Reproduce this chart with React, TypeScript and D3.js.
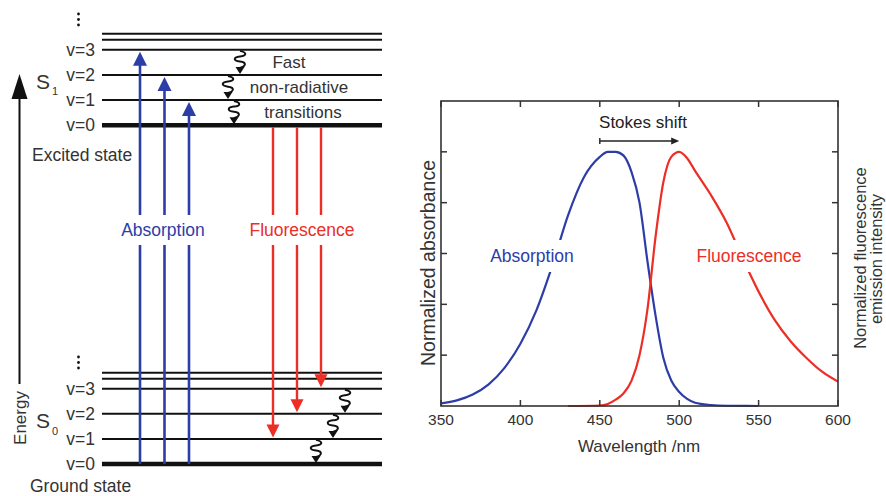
import React, { useEffect, useRef } from 'react';
import * as d3 from 'd3';

// spectra (normalized)
const absWavelength = [350, 360, 370, 380, 390, 400, 410, 420, 430, 440, 450, 455, 460, 465, 470, 475, 480, 485, 490, 495, 500, 505, 510, 520, 530, 550];
const absValues = [0.01, 0.022, 0.045, 0.085, 0.15, 0.245, 0.375, 0.55, 0.75, 0.9, 0.98, 1.0, 1.0, 0.985, 0.92, 0.8, 0.57, 0.36, 0.19, 0.1, 0.055, 0.028, 0.013, 0.004, 0.001, 0];
const fluWavelength = [430, 450, 455, 460, 465, 470, 475, 480, 485, 490, 495, 500, 505, 510, 520, 530, 540, 550, 560, 570, 580, 590, 600];
const fluValues = [0, 0.002, 0.008, 0.025, 0.05, 0.1, 0.2, 0.38, 0.66, 0.88, 0.98, 1.0, 0.975, 0.925, 0.83, 0.72, 0.58, 0.45, 0.34, 0.256, 0.19, 0.135, 0.096];
const xTicks = [350, 400, 450, 500, 550, 600];
const yTicks = [0.2, 0.4, 0.6, 0.8, 1.0];
const stokesFrom = 450;
const stokesTo = 500;

// Jablonski levels (energy units)
const vibLabels = ['v=0', 'v=1', 'v=2', 'v=3'];
const s0Energy = [0, 1, 2, 3];
const s1Energy = [13.5, 14.5, 15.5, 16.5];
const s0Upper = [3.4, 3.64];
const s1Upper = [16.9, 17.14];
const absTargets = [3, 2, 1];
const fluTargets = [1, 2, 3];
const relaxS1 = [[3, 2], [2, 1], [1, 0]];
const relaxS0 = [[3, 2], [2, 1], [1, 0]];
const relaxTexts = ['Fast', 'non-radiative', 'transitions'];

const BLUE = '#2d3da8';
const RED = '#ec2e26';
const INK = '#222';
const FONT = '"Liberation Sans", Arial, Helvetica, sans-serif';

const App = () => {
  const ref = useRef<SVGSVGElement>(null);

  useEffect(() => {
    const svg = d3.select(ref.current);
    svg.selectAll('*').remove();
    svg.attr('font-family', FONT);

    // ---------- left: Jablonski diagram ----------
    const yE = d3.scaleLinear().domain([0, 18]).range([464, 464 - 18 * 25.1]);
    const lx0 = 102;
    const lx1 = 382;
    const left = svg.append('g');

    const drawLevels = (energies: number[], upper: number[]) => {
      energies.forEach((e, i) => {
        left.append('line')
          .attr('x1', lx0).attr('x2', lx1)
          .attr('y1', yE(e)).attr('y2', yE(e))
          .attr('stroke', '#111').attr('stroke-width', i === 0 ? 4.5 : 2);
        left.append('text')
          .attr('x', 95).attr('y', yE(e) + 6)
          .attr('text-anchor', 'end').attr('font-size', 17.5).attr('fill', '#333')
          .text(vibLabels[i]);
      });
      upper.forEach(e => {
        left.append('line')
          .attr('x1', lx0).attr('x2', lx1)
          .attr('y1', yE(e)).attr('y2', yE(e))
          .attr('stroke', '#111').attr('stroke-width', 2);
      });
    };
    drawLevels(s0Energy, s0Upper);
    drawLevels(s1Energy, s1Upper);

    // dots above each manifold
    const dots = (y0: number) => {
      [0, 5.5, 11].forEach(d => {
        left.append('circle').attr('cx', 78.5).attr('cy', y0 + d).attr('r', 1.4).attr('fill', '#111');
      });
    };
    dots(14);
    dots(357);

    // state labels
    const stateLabel = (y: number, sub: string, subY: number) => {
      left.append('text').attr('x', 36).attr('y', y).attr('font-size', 21).attr('fill', '#333').text('S');
      left.append('text').attr('x', 52).attr('y', subY).attr('font-size', 11).attr('fill', '#333').text(sub);
    };
    stateLabel(89, '1', 95);
    stateLabel(428, '0', 435);
    left.append('text').attr('x', 32).attr('y', 161).attr('font-size', 17.5).attr('fill', '#333').text('Excited state');
    left.append('text').attr('x', 30).attr('y', 492).attr('font-size', 17.5).attr('fill', '#333').text('Ground state');

    // energy axis
    left.append('line').attr('x1', 19.5).attr('x2', 19.5).attr('y1', 95).attr('y2', 384)
      .attr('stroke', '#111').attr('stroke-width', 2);
    left.append('path').attr('d', 'M19.5,74 L27.5,99 L11.5,99 Z').attr('fill', '#111');
    left.append('text').attr('transform', 'translate(25.5,418) rotate(-90)')
      .attr('text-anchor', 'middle').attr('font-size', 17).attr('fill', '#333').text('Energy');

    const arrowHead = (x: number, tip: number, dir: number, hw: number, hl: number, color: string) => {
      left.append('path')
        .attr('d', `M${x},${tip} L${x + hw},${tip + dir * hl} L${x - hw},${tip + dir * hl} Z`)
        .attr('fill', color);
    };

    // absorption arrows
    const absX = d3.scalePoint<number>().domain(absTargets).range([140, 189]);
    absTargets.forEach(t => {
      const x = absX(t)!;
      const tip = yE(s1Energy[t]) + 2;
      left.append('line').attr('x1', x).attr('x2', x).attr('y1', yE(s0Energy[0])).attr('y2', tip + 10)
        .attr('stroke', BLUE).attr('stroke-width', 2.6);
      arrowHead(x, tip, 1, 7, 14, BLUE);
    });

    // fluorescence arrows
    const fluX = d3.scalePoint<number>().domain(fluTargets).range([273, 321]);
    fluTargets.forEach(t => {
      const x = fluX(t)!;
      const tip = yE(s0Energy[t]) - 1.5;
      left.append('line').attr('x1', x).attr('x2', x).attr('y1', yE(s1Energy[0]) + 2).attr('y2', tip - 10)
        .attr('stroke', RED).attr('stroke-width', 2.4);
      arrowHead(x, tip, -1, 6.5, 13, RED);
    });

    // labels with white backgrounds
    const labelBox = (g: d3.Selection<any, any, any, any>, x: number, y: number, txt: string, color: string, size: number, padY: number) => {
      const bg = g.append('rect').attr('fill', '#fff');
      const t = g.append('text').attr('x', x).attr('y', y).attr('text-anchor', 'middle')
        .attr('dominant-baseline', 'central').attr('font-size', size).attr('fill', color).text(txt);
      const b = (t.node() as SVGTextElement).getBBox();
      bg.attr('x', b.x - 2).attr('y', b.y - padY).attr('width', b.width + 4).attr('height', b.height + padY * 2);
    };
    labelBox(left, 163, 230, 'Absorption', BLUE, 17.5, 5);
    labelBox(left, 302, 230, 'Fluorescence', RED, 17.5, 5);

    // non-radiative relaxation squiggles
    const squiggle = (x: number, yTop: number, yTip: number) => {
      const y1 = yTop + 1;
      const y2 = yTip - 6;
      const h = (y2 - y1) / 4;
      const p = d3.path();
      p.moveTo(x, y1);
      p.bezierCurveTo(x + 7, y1 + h * 0.4, x + 7, y1 + h * 1.1, x, y1 + h * 1.3);
      p.bezierCurveTo(x - 7, y1 + h * 1.5, x - 7, y1 + h * 2.3, x, y1 + h * 2.5);
      p.bezierCurveTo(x + 7, y1 + h * 2.7, x + 6, y1 + h * 3.6, x, y1 + h * 4);
      left.append('path').attr('d', p.toString()).attr('fill', 'none')
        .attr('stroke', '#111').attr('stroke-width', 2);
      left.append('path')
        .attr('d', `M${x},${yTip} L${x + 4.5},${yTip - 7} L${x - 4.5},${yTip - 7} Z`).attr('fill', '#111');
    };
    const relaxS1X = [240, 228, 234];
    relaxS1.forEach(([a, b], i) => squiggle(relaxS1X[i], yE(s1Energy[a]), yE(s1Energy[b]) - 1));
    const relaxS0X = [345, 333, 316];
    relaxS0.forEach(([a, b], i) => squiggle(relaxS0X[i], yE(s0Energy[a]), yE(s0Energy[b]) - 1));

    const relaxTextX = [289, 299, 303];
    relaxTexts.forEach((s, i) => {
      left.append('text').attr('x', relaxTextX[i])
        .attr('y', (yE(s1Energy[3 - i]) + yE(s1Energy[2 - i])) / 2 + 5.5)
        .attr('text-anchor', 'middle').attr('font-size', 17).attr('fill', '#333').text(s);
    });

    // ---------- right: spectra ----------
    const x = d3.scaleLinear().domain([350, 600]).range([441, 838]);
    const y = d3.scaleLinear().domain([0, 1.2]).range([406, 101]);
    const plot = svg.append('g');

    const line = d3.line<number>()
      .x(d => x(d))
      .curve(d3.curveMonotoneX);

    plot.append('path')
      .attr('d', line.y((_, i) => y(absValues[i]))(absWavelength))
      .attr('fill', 'none').attr('stroke', BLUE).attr('stroke-width', 2.2);
    plot.append('path')
      .attr('d', line.y((_, i) => y(fluValues[i]))(fluWavelength))
      .attr('fill', 'none').attr('stroke', RED).attr('stroke-width', 2.2);

    labelBox(plot, 532, 256, 'Absorption', BLUE, 17.5, 6);
    labelBox(plot, 749, 256, 'Fluorescence', RED, 17.5, 6);

    // frame and inward ticks
    plot.append('rect').attr('x', 441).attr('y', 101).attr('width', 838 - 441).attr('height', 406 - 101)
      .attr('fill', 'none').attr('stroke', '#333').attr('stroke-width', 1.6);
    const tl = 6;
    xTicks.forEach(v => {
      plot.append('line').attr('x1', x(v)).attr('x2', x(v)).attr('y1', 406).attr('y2', 406 - tl)
        .attr('stroke', '#333').attr('stroke-width', 1.5);
      plot.append('line').attr('x1', x(v)).attr('x2', x(v)).attr('y1', 101).attr('y2', 101 + tl)
        .attr('stroke', '#333').attr('stroke-width', 1.5);
      plot.append('text').attr('x', x(v)).attr('y', 425).attr('text-anchor', 'middle')
        .attr('font-size', 15.5).attr('fill', '#333').text(v);
    });
    yTicks.forEach(v => {
      plot.append('line').attr('x1', 441).attr('x2', 441 + tl).attr('y1', y(v)).attr('y2', y(v))
        .attr('stroke', '#333').attr('stroke-width', 1.5);
      plot.append('line').attr('x1', 838).attr('x2', 838 - tl).attr('y1', y(v)).attr('y2', y(v))
        .attr('stroke', '#333').attr('stroke-width', 1.5);
    });

    plot.append('text').attr('x', 639).attr('y', 452).attr('text-anchor', 'middle')
      .attr('font-size', 17).attr('fill', '#333').text('Wavelength /nm');
    plot.append('text').attr('transform', 'translate(435,263) rotate(-90)').attr('text-anchor', 'middle')
      .attr('font-size', 19.5).attr('fill', '#333').text('Normalized absorbance');
    plot.append('text').attr('transform', 'translate(866,258) rotate(-90)').attr('text-anchor', 'middle')
      .attr('font-size', 16.5).attr('fill', '#333').text('Normalized fluorescence');
    plot.append('text').attr('transform', 'translate(882,259) rotate(-90)').attr('text-anchor', 'middle')
      .attr('font-size', 16.5).attr('fill', '#333').text('emission intensity');

    // Stokes shift
    const sy = 141;
    plot.append('line').attr('x1', x(stokesFrom)).attr('x2', x(stokesTo) - 6).attr('y1', sy).attr('y2', sy)
      .attr('stroke', '#222').attr('stroke-width', 1.6);
    plot.append('path')
      .attr('d', `M${x(stokesTo)},${sy} L${x(stokesTo) - 8},${sy - 3.5} L${x(stokesTo) - 8},${sy + 3.5} Z`)
      .attr('fill', '#222');
    plot.append('line').attr('x1', x(stokesFrom)).attr('x2', x(stokesFrom)).attr('y1', sy - 3).attr('y2', sy + 3)
      .attr('stroke', '#222').attr('stroke-width', 1.4);
    plot.append('text').attr('x', 643).attr('y', 128).attr('text-anchor', 'middle')
      .attr('font-size', 17).attr('fill', INK).text('Stokes shift');
  }, []);

  return (
    <svg ref={ref} width={886} height={496}
      style={{ position: 'absolute', left: 0, top: 0, background: '#fff' }} />
  );
};

export default App;
